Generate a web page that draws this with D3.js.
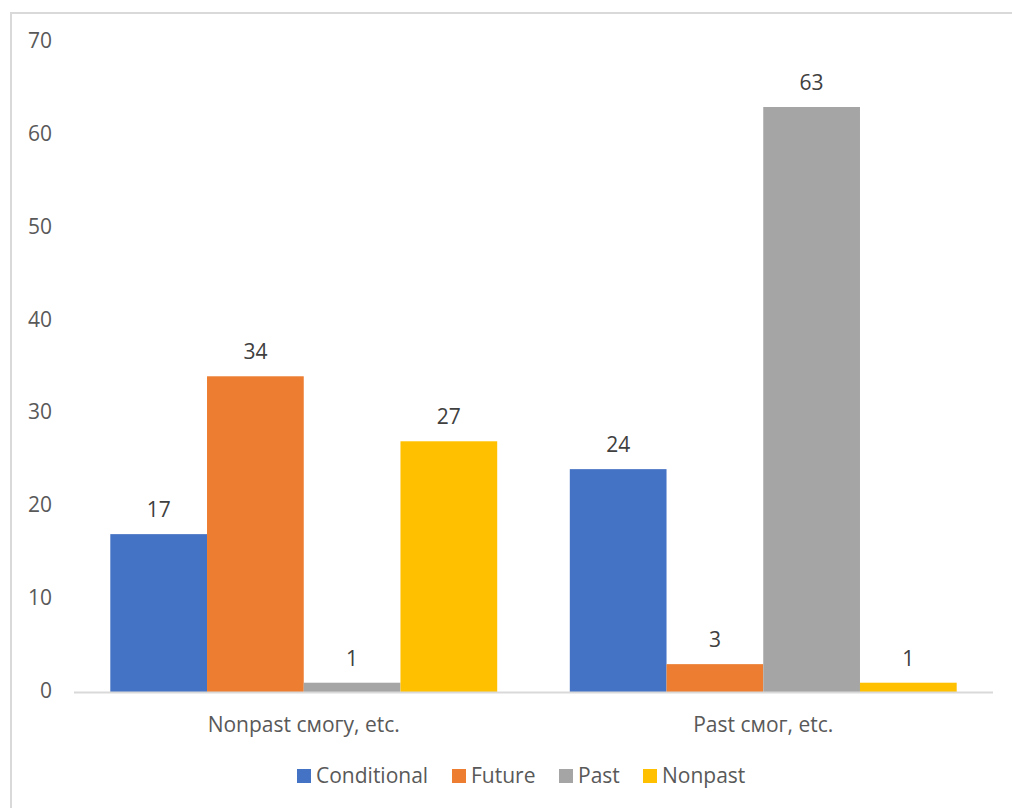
<!DOCTYPE html>
<html>
<head>
<meta charset="utf-8">
<script src="https://cdn.jsdelivr.net/npm/d3@7"></script>
<style>
    body { margin: 0; background: #fff; }
    svg { display: block; font-family: 'Open Sans', sans-serif; }
</style>
</head>
<body>
<svg width="1012" height="808"></svg>
<script>
const categories = ['Nonpast смогу, etc.', 'Past смог, etc.'];
const seriesNames = ['Conditional', 'Future', 'Past', 'Nonpast'];
const conditional = [17, 24];
const future = [34, 3];
const past = [1, 63];
const nonpast = [27, 1];
const yTicks = [0, 10, 20, 30, 40, 50, 60, 70];
const colors = ['#4472C4', '#ED7D31', '#A5A5A5', '#FFC000'];

const values = [conditional, future, past, nonpast];

const svg = d3.select('svg');

// chart frame (cropped on the right and bottom)
svg.append('rect')
    .attr('x', 11)
    .attr('y', 13)
    .attr('width', 1100)
    .attr('height', 900)
    .attr('fill', 'none')
    .attr('stroke', '#d9d9d9')
    .attr('stroke-width', 2);

const plotLeft = 74, plotRight = 993, plotTop = 42, plotBottom = 692;

const xScale = d3.scaleBand()
    .domain(categories)
    .range([plotLeft, plotRight])
    .paddingInner(0.158)
    .paddingOuter(0.079);

const xInner = d3.scaleBand()
    .domain(seriesNames)
    .range([0, xScale.bandwidth()]);

const yScale = d3.scaleLinear().domain([0, 70]).range([plotBottom, plotTop]);

// y tick labels
svg.append('g')
    .selectAll('text')
    .data(yTicks)
    .join('text')
    .attr('x', 52)
    .attr('y', (d) => yScale(d) - 2)
    .attr('text-anchor', 'end')
    .attr('dominant-baseline', 'central')
    .attr('font-size', 21)
    .attr('fill', '#595959')
    .text((d) => d);

// bars
const groups = svg.append('g')
    .selectAll('g')
    .data(seriesNames)
    .join('g')
    .attr('fill', (d, i) => colors[i]);

groups.selectAll('rect')
    .data((s, i) => categories.map((c, j) => ({ c, s, v: values[i][j] })))
    .join('rect')
    .attr('x', (d) => xScale(d.c) + xInner(d.s))
    .attr('y', (d) => yScale(d.v))
    .attr('width', xInner.bandwidth())
    .attr('height', (d) => plotBottom - yScale(d.v));

// data labels
groups.selectAll('text')
    .data((s, i) => categories.map((c, j) => ({ c, s, v: values[i][j] })))
    .join('text')
    .attr('x', (d) => xScale(d.c) + xInner(d.s) + xInner.bandwidth() / 2)
    .attr('y', (d) => yScale(d.v) - 25)
    .attr('text-anchor', 'middle')
    .attr('dominant-baseline', 'central')
    .attr('font-size', 21)
    .attr('fill', '#404040')
    .text((d) => d.v);

// x axis line
svg.append('line')
    .attr('x1', plotLeft)
    .attr('x2', plotRight)
    .attr('y1', plotBottom + 0.5)
    .attr('y2', plotBottom + 0.5)
    .attr('stroke', '#d9d9d9')
    .attr('stroke-width', 2);

// category labels
svg.append('g')
    .selectAll('text')
    .data(categories)
    .join('text')
    .attr('x', (d) => xScale(d) + xScale.bandwidth() / 2)
    .attr('y', 724)
    .attr('text-anchor', 'middle')
    .attr('dominant-baseline', 'central')
    .attr('font-size', 21)
    .attr('fill', '#595959')
    .text((d) => d);

// legend
const legendX = [297, 452, 559, 643];
const legend = svg.append('g')
    .selectAll('g')
    .data(seriesNames)
    .join('g')
    .attr('transform', (d, i) => `translate(${legendX[i]},776)`);

legend.append('rect')
    .attr('x', 0)
    .attr('y', -7)
    .attr('width', 14)
    .attr('height', 14)
    .attr('fill', (d, i) => colors[i]);

legend.append('text')
    .attr('x', 19)
    .attr('y', -1)
    .attr('dominant-baseline', 'central')
    .attr('font-size', 21)
    .attr('fill', '#595959')
    .text((d) => d);
</script>
</body>
</html>
